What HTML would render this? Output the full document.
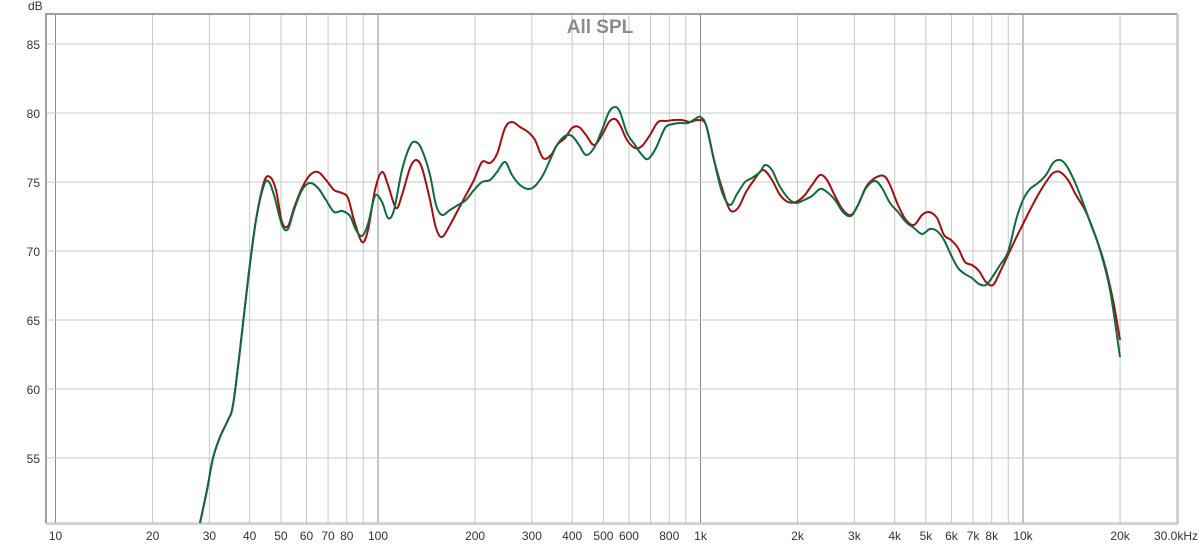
<!DOCTYPE html>
<html><head><meta charset="utf-8"><style>
body{margin:0;background:#fff;}
text{font-family:"Liberation Sans",sans-serif;}
</style></head><body>
<svg width="1200" height="545" xmlns="http://www.w3.org/2000/svg" id="s">
<rect width="1200" height="545" fill="#fff"/>
<g id="grid"></g>
<rect x="46" y="14" width="1131" height="509" fill="none" stroke="#b8b8b8" stroke-width="1"/>
<line x1="46" y1="13" x2="46" y2="523" stroke="#a0a0a0" stroke-width="2"/>
<line x1="46" y1="14" x2="1177" y2="14" stroke="#a0a0a0" stroke-width="2"/>
<line x1="46" y1="524" x2="1178" y2="524" stroke="#d0d0d0" stroke-width="2"/>
<line x1="1178" y1="14" x2="1178" y2="524" stroke="#d0d0d0" stroke-width="2"/>
<text x="600" y="33" font-size="19" font-weight="bold" fill="#8c8c8c" text-anchor="middle">All SPL</text>
<text x="28" y="10" font-size="12" fill="#333">dB</text>
<g id="lab" font-size="12" fill="#333"></g>
<path id="red" fill="none" stroke="#a80d0d" stroke-width="2" stroke-linejoin="round"/>
<path id="grn" fill="none" stroke="#0e6b3e" stroke-width="2" stroke-linejoin="round"/>
</svg>
<script>
var g=document.getElementById('grid'),lab=document.getElementById('lab'),ns='http://www.w3.org/2000/svg';
function el(t,a,p){var e=document.createElementNS(ns,t);for(var k in a)e.setAttribute(k,a[k]);p.appendChild(e);return e;}
function fx(f){return 55.5+322.5*Math.log10(f/10);}
var fs=[];for(var d=10;d<=10000;d*=10)for(var m=1;m<10;m++)fs.push(d*m);fs.push(20000);
fs.forEach(function(f){var x=fx(f);var major=(f==10||f==100||f==1000||f==10000);
el('line',{x1:x,y1:14,x2:x,y2:523,stroke:major?'#8a8a8a':'#c8c8c8','stroke-width':1},g);});
for(var v=55;v<=85;v+=5){var y=44+(85-v)*13.8;el('line',{x1:46,y1:y,x2:1177,y2:y,stroke:'#c8c8c8','stroke-width':1},g);
var t=el('text',{x:40,y:y+5,'text-anchor':'end'},lab);t.textContent=v;}
var L={10:'10',20:'20',30:'30',40:'40',50:'50',60:'60',70:'70',80:'80',100:'100',200:'200',300:'300',400:'400',500:'500',600:'600',800:'800',1000:'1k',2000:'2k',3000:'3k',4000:'4k',5000:'5k',6000:'6k',7000:'7k',8000:'8k',10000:'10k',20000:'20k'};
for(var f in L){var t=el('text',{x:fx(+f),y:540,'text-anchor':'middle'},lab);t.textContent=L[f];}
var t=el('text',{x:1176,y:540,'text-anchor':'middle'},lab);t.textContent='30.0kHz';
var G=[[200,523],[207,490],[213,458],[220,437],[228,420],[233,405],[240,350],[248,280],[256,220],[264,185],[269,182],[274,195],[282,225],[288,229],[294,210],[302,190],[310,183],[318,188],[326,200],[334,212],[342,211],[350,216],[356,230],[362,236],[368,224],[375,196],[382,202],[388,218],[394,210],[402,170],[410,146],[416,142],[422,150],[430,175],[436,205],[442,215],[450,210],[458,205],[466,200],[474,190],[482,182],[490,180],[497,172],[505,162],[512,175],[520,185],[528,189],[535,186],[543,175],[550,160],[557,145],[565,136],[572,136],[579,145],[586,155],[594,148],[602,130],[609,112],[615,107],[620,112],[627,133],[635,145],[642,155],[648,159],[656,148],[665,128],[673,124],[680,123],[688,123],[695,119],[700,117],[706,125],[714,160],[722,192],[730,205],[737,194],[745,182],[752,178],[760,172],[765,165],[772,170],[779,185],[788,198],[796,203],[804,200],[812,196],[820,189],[827,192],[835,200],[843,212],[851,216],[858,205],[866,188],[875,181],[882,188],[890,203],[898,212],[906,222],[914,228],[922,234],[930,229],[937,231],[944,240],[951,255],[958,268],[965,274],[972,278],[979,284],[986,285],[993,276],[1000,265],[1008,252],[1016,220],[1023,200],[1030,189],[1038,183],[1046,175],[1053,163],[1060,160],[1066,165],[1074,180],[1082,200],[1090,222],[1100,250],[1110,290],[1120,357]];
var R=[[200,523],[207,490],[213,458],[220,437],[228,420],[233,405],[240,350],[248,280],[256,220],[264,182],[270,177],[276,190],[282,222],[288,226],[294,208],[302,188],[310,175],[318,172],[326,180],[334,190],[342,193],[348,198],[354,220],[362,242],[368,230],[375,190],[382,172],[388,185],[396,208],[402,195],[410,168],[416,160],[422,168],[430,200],[436,228],[442,237],[450,225],[458,210],[466,195],[474,180],[482,162],[490,163],[497,154],[505,128],[512,122],[520,127],[528,132],[535,140],[543,158],[551,155],[557,145],[565,138],[572,128],[579,127],[586,135],[594,145],[602,135],[609,122],[615,119],[620,125],[627,140],[635,148],[642,146],[650,135],[658,122],[666,121],[674,120],[682,120],[690,122],[698,120],[706,125],[714,160],[722,188],[730,210],[738,208],[746,192],[754,180],[763,170],[772,180],[780,195],[788,202],[796,202],[804,196],[812,185],[820,175],[827,180],[835,196],[843,210],[851,215],[858,205],[866,187],[875,178],[884,176],[890,185],[898,205],[906,220],[914,225],[922,215],[929,212],[937,218],[944,235],[951,240],[958,248],[965,262],[972,265],[979,271],[986,282],[993,285],[1000,272],[1008,255],[1016,238],[1023,224],[1030,210],[1038,195],[1046,182],[1053,173],[1060,172],[1068,180],[1076,195],[1085,210],[1094,232],[1104,262],[1113,300],[1120,340]];
function cr(P){var d='M'+P[0][0]+','+P[0][1];for(var i=0;i<P.length-1;i++){var p0=P[i-1]||P[i],p1=P[i],p2=P[i+1],p3=P[i+2]||p2;
d+=' C'+(p1[0]+(p2[0]-p0[0])/6).toFixed(1)+','+(p1[1]+(p2[1]-p0[1])/6).toFixed(1)+' '+(p2[0]-(p3[0]-p1[0])/6).toFixed(1)+','+(p2[1]-(p3[1]-p1[1])/6).toFixed(1)+' '+p2[0]+','+p2[1];}return d;}
document.getElementById('red').setAttribute('d',cr(R));
document.getElementById('grn').setAttribute('d',cr(G));
</script>
</body></html>
